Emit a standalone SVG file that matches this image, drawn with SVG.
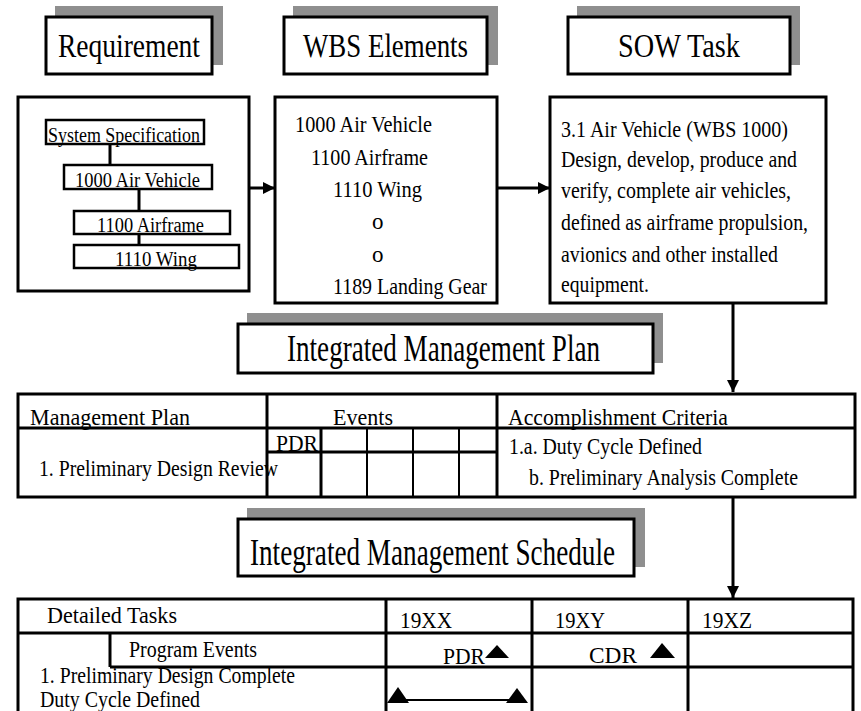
<svg xmlns="http://www.w3.org/2000/svg" width="861" height="711" viewBox="0 0 861 711">
<style>
  text { font-family: "Liberation Serif", "Times New Roman", serif; fill: #000; }
  .box { fill: #fff; stroke: #000; stroke-width: 3; }
  .sbox { fill: #fff; stroke: #000; stroke-width: 2.5; }
  .shadow { fill: #8f8f8f; stroke: none; }
  .ln { stroke: #000; stroke-width: 3; fill: none; }
  .thin { stroke: #000; stroke-width: 2; fill: none; }
  .title { font-size: 34px; }
  .big { font-size: 37px; }
  .body { font-size: 23px; }
  .small { font-size: 20px; }
  .tri { fill: #000; }
</style>
<defs>
  <marker id="ah" viewBox="0 0 10 10" refX="10" refY="5" markerWidth="12" markerHeight="12" markerUnits="userSpaceOnUse" orient="auto">
    <path d="M0,0 L10,5 L0,10 z" fill="#000"/>
  </marker>
</defs>
<rect width="861" height="711" fill="#fff"/>

<g id="title-requirement">
  <rect class="shadow" x="55" y="6" width="168" height="59"/>
  <rect class="box" x="46" y="17" width="166" height="57"/>
  <text class="title" x="58" y="57" textLength="142" lengthAdjust="spacingAndGlyphs">Requirement</text>
</g>
<g id="title-wbs">
  <rect class="shadow" x="293" y="6" width="205" height="59"/>
  <rect class="box" x="284" y="17" width="203" height="57"/>
  <text class="title" x="303" y="57" textLength="165" lengthAdjust="spacingAndGlyphs">WBS Elements</text>
</g>
<g id="title-sow">
  <rect class="shadow" x="577" y="6" width="223" height="59"/>
  <rect class="box" x="568" y="17" width="222" height="57"/>
  <text class="title" x="618" y="57" textLength="122" lengthAdjust="spacingAndGlyphs">SOW Task</text>
</g>

<g id="requirement">
  <rect class="box" x="18" y="97" width="231" height="194"/>
  <g id="req-spec">
    <rect class="sbox" x="46" y="120" width="158" height="24"/>
    <text class="small" x="48" y="142" textLength="152" lengthAdjust="spacingAndGlyphs">System Specification</text>
  </g>
  <g id="req-1000">
    <rect class="sbox" x="64" y="165" width="148" height="24"/>
    <text class="small" x="75" y="187" textLength="125" lengthAdjust="spacingAndGlyphs">1000 Air Vehicle</text>
  </g>
  <g id="req-1100">
    <rect class="sbox" x="74" y="211" width="156" height="23"/>
    <text class="small" x="97" y="232" textLength="107" lengthAdjust="spacingAndGlyphs">1100 Airframe</text>
  </g>
  <g id="req-1110">
    <rect class="sbox" x="74" y="245" width="165" height="23"/>
    <text class="small" x="115" y="266" textLength="82" lengthAdjust="spacingAndGlyphs">1110 Wing</text>
  </g>
</g>

<g id="wbs">
  <rect class="box" x="275" y="97" width="222" height="206"/>
  <text class="body" x="295" y="132" textLength="137" lengthAdjust="spacingAndGlyphs">1000 Air Vehicle</text>
  <text class="body" x="311" y="165" textLength="117" lengthAdjust="spacingAndGlyphs">1100 Airframe</text>
  <text class="body" x="333" y="197" textLength="89" lengthAdjust="spacingAndGlyphs">1110 Wing</text>
  <text class="body" x="372" y="229">o</text>
  <text class="body" x="372" y="262">o</text>
  <text class="body" x="333" y="294" textLength="154" lengthAdjust="spacingAndGlyphs">1189 Landing Gear</text>
</g>

<g id="sow">
  <rect class="box" x="550" y="97" width="276" height="206"/>
  <text class="body" x="561" y="137" textLength="227" lengthAdjust="spacingAndGlyphs">3.1 Air Vehicle (WBS 1000)</text>
  <text class="body" x="561" y="167" textLength="236" lengthAdjust="spacingAndGlyphs">Design, develop, produce and</text>
  <text class="body" x="561" y="198" textLength="230" lengthAdjust="spacingAndGlyphs">verify, complete air vehicles,</text>
  <text class="body" x="561" y="230" textLength="247" lengthAdjust="spacingAndGlyphs">defined as airframe propulsion,</text>
  <text class="body" x="561" y="262" textLength="217" lengthAdjust="spacingAndGlyphs">avionics and other installed</text>
  <text class="body" x="561" y="292" textLength="88" lengthAdjust="spacingAndGlyphs">equipment.</text>
</g>

<g id="title-imp">
  <rect class="shadow" x="247" y="313" width="416" height="50"/>
  <rect class="box" x="238" y="324" width="415" height="49"/>
  <text class="big" x="287" y="361" textLength="313" lengthAdjust="spacingAndGlyphs">Integrated Management Plan</text>
</g>

<g id="imp-table">
  <rect class="box" x="18" y="394" width="837" height="103"/>
  <line class="ln" x1="18" y1="428" x2="855" y2="428"/>
  <line class="ln" x1="267" y1="394" x2="267" y2="497"/>
  <line class="ln" x1="497" y1="394" x2="497" y2="497"/>
  <line class="ln" x1="321" y1="428" x2="321" y2="497"/>
  <line class="thin" x1="367" y1="428" x2="367" y2="497"/>
  <line class="thin" x1="413" y1="428" x2="413" y2="497"/>
  <line class="thin" x1="459" y1="428" x2="459" y2="497"/>
  <line class="ln" x1="267" y1="452" x2="497" y2="452"/>
  <text class="body" x="30" y="425" textLength="160" lengthAdjust="spacingAndGlyphs">Management Plan</text>
  <text class="body" x="333" y="425" textLength="60" lengthAdjust="spacingAndGlyphs">Events</text>
  <text class="body" x="508" y="425" textLength="220" lengthAdjust="spacingAndGlyphs">Accomplishment Criteria</text>
  <text class="body" x="276" y="451" textLength="42" lengthAdjust="spacingAndGlyphs">PDR</text>
  <text class="body" x="39" y="476" textLength="239" lengthAdjust="spacingAndGlyphs">1. Preliminary Design Review</text>
  <text class="body" x="509" y="454" textLength="193" lengthAdjust="spacingAndGlyphs">1.a. Duty Cycle Defined</text>
  <text class="body" x="529" y="485" textLength="269" lengthAdjust="spacingAndGlyphs">b. Preliminary Analysis Complete</text>
</g>

<g id="title-ims">
  <rect class="shadow" x="247" y="508" width="398" height="59"/>
  <rect class="box" x="238" y="519" width="396" height="57"/>
  <text class="big" x="250" y="565" textLength="365" lengthAdjust="spacingAndGlyphs">Integrated Management Schedule</text>
</g>

<g id="ims-table">
  <text class="body" x="40" y="683" textLength="255" lengthAdjust="spacingAndGlyphs">1. Preliminary Design Complete</text>
  <rect x="110" y="634" width="743" height="33" fill="#fff"/>
  <path class="ln" d="M18,716 L18,599 L853,599 L853,716"/>
  <line class="ln" x1="18" y1="633" x2="853" y2="633"/>
  <line class="ln" x1="110" y1="667" x2="853" y2="667"/>
  <line class="ln" x1="110" y1="633" x2="110" y2="667"/>
  <line class="ln" x1="386" y1="599" x2="386" y2="716"/>
  <line class="ln" x1="532" y1="599" x2="532" y2="716"/>
  <line class="ln" x1="688" y1="599" x2="688" y2="716"/>
  <text class="body" x="47" y="623" textLength="130" lengthAdjust="spacingAndGlyphs">Detailed Tasks</text>
  <text class="body" x="400" y="628" textLength="52" lengthAdjust="spacingAndGlyphs">19XX</text>
  <text class="body" x="555" y="628" textLength="50" lengthAdjust="spacingAndGlyphs">19XY</text>
  <text class="body" x="702" y="628" textLength="50" lengthAdjust="spacingAndGlyphs">19XZ</text>
  <text class="body" x="129" y="657" textLength="128" lengthAdjust="spacingAndGlyphs">Program Events</text>
  <text class="body" x="443" y="664" textLength="42" lengthAdjust="spacingAndGlyphs">PDR</text>
  <polygon class="tri" points="485,658 497,645 509,658"/>
  <text class="body" x="589" y="663" textLength="48" lengthAdjust="spacingAndGlyphs">CDR</text>
  <polygon class="tri" points="650,658 662,643 675,658"/>
  <text class="body" x="40" y="707" textLength="160" lengthAdjust="spacingAndGlyphs">Duty Cycle Defined</text>
  <line class="thin" x1="395" y1="700" x2="520" y2="700"/>
  <polygon class="tri" points="387,703 398,687 409,703"/>
  <polygon class="tri" points="506,703 517,688 528,703"/>
</g>

<g id="connectors">
  <line class="ln" x1="110" y1="144" x2="110" y2="165"/>
  <line class="ln" x1="139" y1="189" x2="139" y2="211"/>
  <line class="ln" x1="139" y1="234" x2="139" y2="245"/>
  <line class="ln" x1="249" y1="188" x2="275" y2="188" marker-end="url(#ah)"/>
  <line class="ln" x1="497" y1="188" x2="550" y2="188" marker-end="url(#ah)"/>
  <line class="ln" x1="733" y1="303" x2="733" y2="392" marker-end="url(#ah)"/>
  <line class="ln" x1="733" y1="497" x2="733" y2="598" marker-end="url(#ah)"/>
</g>
</svg>
